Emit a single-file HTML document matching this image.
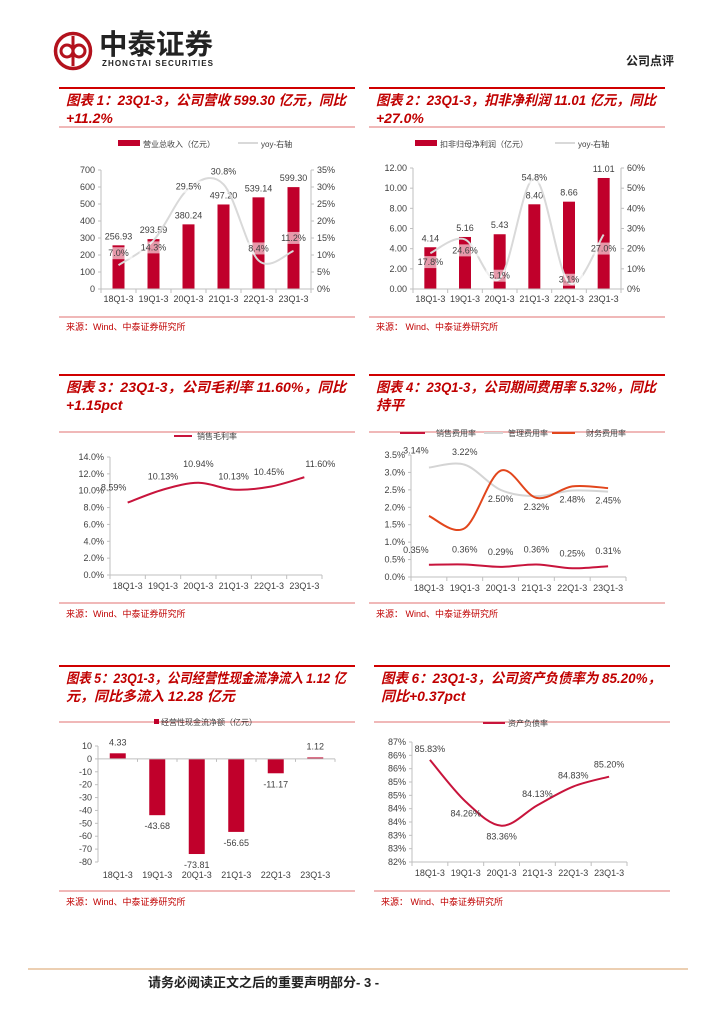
<!DOCTYPE html>
<html><head><meta charset="utf-8">
<style>
html,body{margin:0;padding:0;background:#fff;}
body{width:724px;height:1024px;overflow:hidden;position:relative;font-family:"Liberation Sans","Noto Sans CJK SC",sans-serif;}
svg{position:absolute;left:0;top:0;}
</style></head>
<body>
<svg id="pg" width="724" height="1024" viewBox="0 0 724 1024" font-family="Liberation Sans, Noto Sans CJK SC, sans-serif">
  <g>
    <circle cx="73" cy="51" r="17.5" fill="none" stroke="#b3121d" stroke-width="3.5"/>
    <path d="M73 36 V66" stroke="#b3121d" stroke-width="3"/>
    <circle cx="67" cy="51" r="6" fill="none" stroke="#b3121d" stroke-width="3"/>
    <circle cx="79" cy="51" r="6" fill="none" stroke="#b3121d" stroke-width="3"/>
    <text x="99" y="54" font-size="28" font-weight="bold" fill="#222" font-family="Noto Sans CJK SC, sans-serif" textLength="114" lengthAdjust="spacingAndGlyphs">中泰证券</text>
    <text x="102" y="66" font-size="8" font-weight="bold" fill="#222" textLength="111">ZHONGTAI SECURITIES</text>
  </g>
  <text x="626" y="65" font-size="12" font-weight="bold" fill="#222">公司点评</text>
  <line x1="28" y1="969" x2="688" y2="969" stroke="#eccfb2" stroke-width="2"/>
  <text x="148" y="987" font-size="13" font-weight="bold" fill="#222">请务必阅读正文之后的重要声明部分- 3 -</text>
</svg>
<script>
// ---------- data ----------
const categories = ['18Q1-3','19Q1-3','20Q1-3','21Q1-3','22Q1-3','23Q1-3'];
const revenue = [256.93, 293.59, 380.24, 497.20, 539.14, 599.30];
const revenueYoy = [7.0, 14.3, 29.5, 30.8, 8.4, 11.2];
const netProfit = [4.14, 5.16, 5.43, 8.40, 8.66, 11.01];
const netProfitYoy = [17.8, 24.6, 5.1, 54.8, 3.1, 27.0];
const grossMargin = [8.59, 10.13, 10.94, 10.13, 10.45, 11.60];
const sellingRate = [0.35, 0.36, 0.29, 0.36, 0.25, 0.31];
const adminRate = [3.14, 3.22, 2.50, 2.32, 2.48, 2.45];
const financeRate = [1.75, 1.40, 3.05, 2.27, 2.60, 2.55];
const cashFlow = [4.33, -43.68, -73.81, -56.65, -11.17, 1.12];
const debtRatio = [85.83, 84.26, 83.36, 84.13, 84.83, 85.20];
const ticks1L = ['0','100','200','300','400','500','600','700'];
const ticks1R = ['0%','5%','10%','15%','20%','25%','30%','35%'];
const ticks2L = ['0.00','2.00','4.00','6.00','8.00','10.00','12.00'];
const ticks2R = ['0%','10%','20%','30%','40%','50%','60%'];
const ticks3 = ['0.0%','2.0%','4.0%','6.0%','8.0%','10.0%','12.0%','14.0%'];
const ticks4 = ['0.0%','0.5%','1.0%','1.5%','2.0%','2.5%','3.0%','3.5%'];
const ticks5 = ['-80','-70','-60','-50','-40','-30','-20','-10','0','10'];
const ticks6 = ['82%','83%','83%','84%','84%','85%','85%','86%','86%','87%'];

const NS='http://www.w3.org/2000/svg';
const pg=document.getElementById('pg');
function el(tag,attrs,parent){const e=document.createElementNS(NS,tag);for(const k in attrs)e.setAttribute(k,attrs[k]);(parent||pg).appendChild(e);return e;}
function txt(x,y,s,size,fill,anchor,parent,extra){const t=el('text',Object.assign({x:x,y:y,'font-size':size,fill:fill,'text-anchor':anchor||'start'},extra||{}),parent);t.textContent=s;return t;}
function xScale(x0,x1,n){return i=>x0+(i+0.5)*(x1-x0)/n;}
function yScale(v0,v1,y0,y1){return v=>y0+(v-v0)*(y1-y0)/(v1-v0);}
function smooth(pts){let d='M'+pts[0][0]+' '+pts[0][1];for(let i=0;i<pts.length-1;i++){const p0=pts[i-1]||pts[i],p1=pts[i],p2=pts[i+1],p3=pts[i+2]||p2;const t=6;d+=' C'+(p1[0]+(p2[0]-p0[0])/t)+' '+(p1[1]+(p2[1]-p0[1])/t)+' '+(p2[0]-(p3[0]-p1[0])/t)+' '+(p2[1]-(p3[1]-p1[1])/t)+' '+p2[0]+' '+p2[1];}return d;}
const RED='#c00000', TICK='#404040';

function panel(x,yTop,yTitleBot,yDivider,lines,srcY,srcText,name){
  const g=el('g',{});
  
  
  el('line',{x1:x,y1:yTop,x2:x+296,y2:yTop,stroke:'#d00000','stroke-width':2},g);
  el('line',{x1:x,y1:yTitleBot,x2:x+296,y2:yTitleBot,stroke:'#e07070','stroke-width':1},g);
  el('line',{x1:x,y1:yDivider,x2:x+296,y2:yDivider,stroke:'#e07070','stroke-width':1},g);
  const t1=txt(x+7,yTop+17,lines[0],14,RED,'start',g,{'font-weight':'bold','font-style':'italic',textLength:280,lengthAdjust:'spacingAndGlyphs'});
  
  
  txt(x+7,yTop+35,lines[1],14,RED,'start',g,{'font-weight':'bold','font-style':'italic'});
  const s=txt(x+7,srcY,srcText,9,RED,'start',g);
  
  
}
function axisLeft(g,x,ys,ticks,vals){ticks.forEach((t,i)=>{const y=ys(vals[i]);txt(x-6,y+3,t,9,TICK,'end',g);el('line',{x1:x-3,y1:y,x2:x,y2:y,stroke:'#bfbfbf'},g);});el('line',{x1:x,y1:ys(vals[0]),x2:x,y2:ys(vals[vals.length-1]),stroke:'#bfbfbf'},g);}
function axisRight(g,x,ys,ticks,vals){ticks.forEach((t,i)=>{const y=ys(vals[i]);txt(x+6,y+3,t,9,TICK,'start',g);el('line',{x1:x,y1:y,x2:x+3,y2:y,stroke:'#bfbfbf'},g);});el('line',{x1:x,y1:ys(vals[0]),x2:x,y2:ys(vals[vals.length-1]),stroke:'#bfbfbf'},g);}
function axisX(g,x0,x1,y,labY,xs){el('line',{x1:x0,y1:y,x2:x1,y2:y,stroke:'#bfbfbf'},g);const w=(x1-x0)/categories.length;for(let i=0;i<=categories.length;i++){el('line',{x1:x0+i*w,y1:y,x2:x0+i*w,y2:y+4,stroke:'#bfbfbf'},g);}categories.forEach((c,i)=>txt(xs(i),labY,c,9,TICK,'middle',g));}
function pctBox(g,x,y,s){el('rect',{x:x-14,y:y-9,width:28,height:12,fill:'#fff','fill-opacity':0.6},g);txt(x,y,s,9,TICK,'middle',g);}

panel(59,88,127,317,['图表 1：23Q1-3，公司营收 599.30 亿元，同比','+11.2%'],330,'来源：Wind、中泰证券研究所','chart1');
panel(369,88,127,317,['图表 2：23Q1-3，扣非净利润 11.01 亿元，同比','+27.0%'],330,'来源：  Wind、中泰证券研究所','chart2');
panel(59,375,432,603,['图表 3：23Q1-3，公司毛利率 11.60%，同比','+1.15pct'],617,'来源：Wind、中泰证券研究所','chart3');
panel(369,375,432,603,['图表 4：23Q1-3，公司期间费用率 5.32%，同比','持平'],617,'来源：  Wind、中泰证券研究所','chart4');
panel(59,666,722,891,['图表 5：23Q1-3，公司经营性现金流净流入 1.12 亿','元，同比多流入 12.28 亿元'],905,'来源：Wind、中泰证券研究所','chart5');
panel(374,666,722,891,['图表 6：23Q1-3，公司资产负债率为 85.20%，','同比+0.37pct'],905,'来源：  Wind、中泰证券研究所','chart6');

// chart 1
(function(){
  const g=el('g',{});
  
  
  const xs=xScale(101,311,6), yl=yScale(0,700,289,170), yr=yScale(0,35,289,170);
  axisLeft(g,101,yl,ticks1L,[0,100,200,300,400,500,600,700]);
  axisRight(g,311,yr,ticks1R,[0,5,10,15,20,25,30,35]);
  revenue.forEach((v,i)=>{const b=el('rect',{x:xs(i)-6,y:yl(v),width:12,height:yl(0)-yl(v),fill:'#c0002b'},g);
    
    
    txt(xs(i),yl(v)-6,v.toFixed(2),9,TICK,'middle',g);});
  axisX(g,101,311,289,302,xs);
  const p=el('path',{d:smooth(revenueYoy.map((v,i)=>[xs(i),yr(v)])),fill:'none',stroke:'#d9d9d9','stroke-width':2},g);
  
  
  const off=[-9,10,1,-10,-9,-10];
  revenueYoy.forEach((v,i)=>pctBox(g,xs(i),yr(v)+off[i],v.toFixed(1)+'%'));
  const lg=el('g',{},g);
  
  
  el('rect',{x:118,y:140,width:22,height:6,fill:'#c0002b'},lg);
  txt(143,147,'营业总收入（亿元）',8,TICK,'start',lg);
  el('line',{x1:238,y1:143,x2:258,y2:143,stroke:'#d9d9d9','stroke-width':2},lg);
  txt(261,147,'yoy-右轴',8,TICK,'start',lg);
})();

// chart 2
(function(){
  const g=el('g',{});
  
  
  const xs=xScale(413,621,6), yl=yScale(0,12,289,168), yr=yScale(0,60,289,168);
  axisLeft(g,413,yl,ticks2L,[0,2,4,6,8,10,12]);
  axisRight(g,621,yr,ticks2R,[0,10,20,30,40,50,60]);
  netProfit.forEach((v,i)=>{const b=el('rect',{x:xs(i)-6,y:yl(v),width:12,height:yl(0)-yl(v),fill:'#c0002b'},g);
    
    
    txt(xs(i),yl(v)-6,v.toFixed(2),9,TICK,'middle',g);});
  axisX(g,413,621,289,302,xs);
  const p=el('path',{d:smooth(netProfitYoy.map((v,i)=>[xs(i),yr(v)])),fill:'none',stroke:'#d9d9d9','stroke-width':2},g);
  
  
  const off=[12,14,0,2,0,17];
  netProfitYoy.forEach((v,i)=>pctBox(g,xs(i),yr(v)+off[i],v.toFixed(1)+'%'));
  const lg=el('g',{},g);
  
  
  el('rect',{x:415,y:140,width:22,height:6,fill:'#c0002b'},lg);
  txt(440,147,'扣非归母净利润（亿元）',8,TICK,'start',lg);
  el('line',{x1:555,y1:143,x2:575,y2:143,stroke:'#d9d9d9','stroke-width':2},lg);
  txt(578,147,'yoy-右轴',8,TICK,'start',lg);
})();

// chart 3
(function(){
  const g=el('g',{});
  
  
  const xs=xScale(110,322,6), ys=yScale(0,14,575,457);
  axisLeft(g,110,ys,ticks3,[0,2,4,6,8,10,12,14]);
  axisX(g,110,322,575,589,xs);
  const p=el('path',{d:smooth(grossMargin.map((v,i)=>[xs(i),ys(v)])),fill:'none',stroke:'#c8143c','stroke-width':2},g);
  
  
  const dx=[-14,0,0,0,0,16], dy=[-12,-10,-16,-10,-12,-10];
  grossMargin.forEach((v,i)=>txt(xs(i)+dx[i],ys(v)+dy[i],v.toFixed(2)+'%',9,TICK,'middle',g));
  const lg=el('g',{},g);
  
  
  el('line',{x1:174,y1:436,x2:192,y2:436,stroke:'#c8143c','stroke-width':2},lg);
  txt(197,439,'销售毛利率',8,TICK,'start',lg);
})();

// chart 4
(function(){
  const g=el('g',{});
  
  
  const xs=xScale(411,626,6), ys=yScale(0,3.5,577,455);
  axisLeft(g,411,ys,ticks4,[0,0.5,1,1.5,2,2.5,3,3.5]);
  axisX(g,411,626,577,591,xs);
  const series=[[adminRate,'#d4d4d4','admin-expense-line'],[financeRate,'#e2461c','finance-expense-line'],[sellingRate,'#c8143c','selling-expense-line']];
  series.forEach(s=>{const p=el('path',{d:smooth(s[0].map((v,i)=>[xs(i),ys(v)])),fill:'none',stroke:s[1],'stroke-width':2},g);
    
    });
  const ady=[-14,-10,12,14,12,12], adx=[-13,0,0,0,0,0];
  adminRate.forEach((v,i)=>txt(xs(i)+adx[i],ys(v)+ady[i],v.toFixed(2)+'%',9,TICK,'middle',g));
  sellingRate.forEach((v,i)=>txt(xs(i)+(i==0?-13:0),ys(v)-12,v.toFixed(2)+'%',9,TICK,'middle',g));
  const lg=el('g',{},g);
  
  
  el('line',{x1:400,y1:433,x2:425,y2:433,stroke:'#c8143c','stroke-width':2},lg);
  txt(436,436,'销售费用率',8,TICK,'start',lg);
  el('line',{x1:484,y1:433,x2:503,y2:433,stroke:'#d4d4d4','stroke-width':2},lg);
  txt(508,436,'管理费用率',8,TICK,'start',lg);
  el('line',{x1:552,y1:433,x2:575,y2:433,stroke:'#e2461c','stroke-width':2},lg);
  txt(586,436,'财务费用率',8,TICK,'start',lg);
})();

// chart 5
(function(){
  const g=el('g',{});
  
  
  const xs=xScale(98,335,6), ys=yScale(-80,10,862,746);
  axisLeft(g,98,ys,ticks5,[-80,-70,-60,-50,-40,-30,-20,-10,0,10]);
  cashFlow.forEach((v,i)=>{const y0=ys(0),y1=ys(v);const b=el('rect',{x:xs(i)-8,y:Math.min(y0,y1),width:16,height:Math.max(1.2,Math.abs(y1-y0)),fill:'#c0002b'},g);
    
    
    txt(xs(i),v>=0?y1-8:y1+14,v.toFixed(2),9,TICK,'middle',g);});
  el('line',{x1:98,y1:ys(0),x2:335,y2:ys(0),stroke:'#bfbfbf'},g);
  const w=(335-98)/6;for(let i=0;i<=6;i++)el('line',{x1:98+i*w,y1:ys(0),x2:98+i*w,y2:ys(0)+3,stroke:'#bfbfbf'},g);
  categories.forEach((c,i)=>txt(xs(i),878,c,9,TICK,'middle',g));
  const lg=el('g',{},g);
  
  
  el('rect',{x:154,y:719,width:5,height:5,fill:'#c0002b'},lg);
  txt(161,725,'经营性现金流净额（亿元）',8,TICK,'start',lg);
})();

// chart 6
(function(){
  const g=el('g',{});
  
  
  const xs=xScale(412,627,6), ys=yScale(82,86.5,862,742);
  axisLeft(g,412,ys,ticks6,[82,82.5,83,83.5,84,84.5,85,85.5,86,86.5]);
  axisX(g,412,627,862,876,xs);
  const p=el('path',{d:smooth(debtRatio.map((v,i)=>[xs(i),ys(v)])),fill:'none',stroke:'#c8143c','stroke-width':2},g);
  
  
  const dy=[-8,15,14,-8,-8,-9];
  debtRatio.forEach((v,i)=>txt(xs(i),ys(v)+dy[i],v.toFixed(2)+'%',9,TICK,'middle',g));
  const lg=el('g',{},g);
  
  
  el('line',{x1:483,y1:723,x2:505,y2:723,stroke:'#c8143c','stroke-width':2},lg);
  txt(508,726,'资产负债率',8,TICK,'start',lg);
})();
</script>
</body></html>
